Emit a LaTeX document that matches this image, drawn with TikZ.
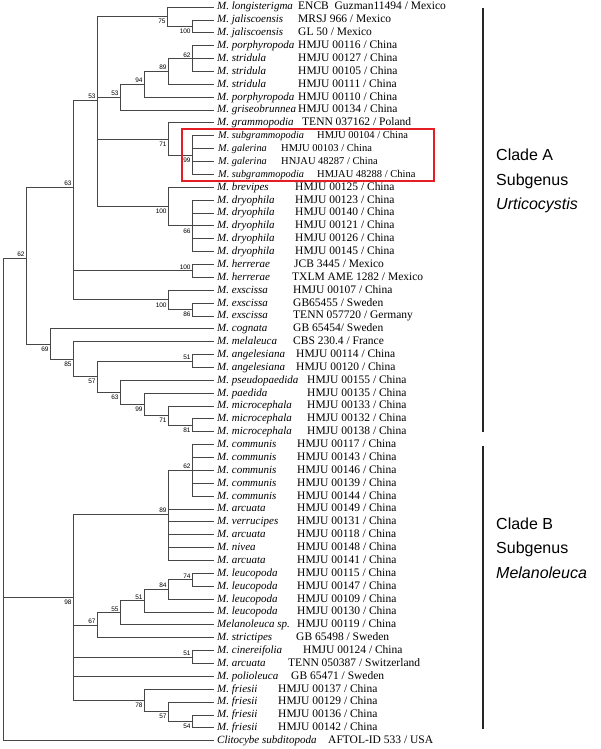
\documentclass[tikz,border=0pt]{standalone}
\usepackage{fontspec}
\setmainfont{Liberation Serif}
\setsansfont{Liberation Sans}
\usepackage{tikz}
\usetikzlibrary{positioning}
\definecolor{boxred}{RGB}{228,30,36}
\definecolor{treegray}{RGB}{70,70,70}

\begin{document}
\begin{tikzpicture}[
        x=1pt, y=-1pt,
        branch/.style={draw=treegray, line width=0.7pt},
        tipname/.style={anchor=west, inner sep=0pt, text height=8pt, text depth=2pt, font=\fontsize{11}{12}\selectfont\itshape},
        tipacc/.style={anchor=west, inner sep=0pt, text height=8pt, text depth=2pt, font=\fontsize{11.5}{12}\selectfont},
        tipnamesm/.style={tipname, font=\fontsize{10.3}{11}\selectfont\itshape},
        tipaccsm/.style={tipacc, font=\fontsize{10.5}{11}\selectfont},
        boot/.style={inner sep=1.2pt, font=\fontsize{6.5}{7}\selectfont\sffamily},
        clade/.style={anchor=west, inner sep=0pt, align=left, font=\fontsize{16}{24.5}\selectfont\sffamily},
        cladebar/.style={draw=black!85, line width=1.6pt}
    ]
    \useasboundingbox (0,0) rectangle (600,749);

    % Nodes
    \coordinate (root) at (3,597);
    \coordinate (nA) at (26,258);
    \coordinate (nA63) at (73,187);
    \coordinate (n53a) at (97,100);
    \coordinate (n75) at (167,16.6);
    \coordinate (nJal) at (192,26.3);
    \coordinate (n53b) at (120,97.1);
    \coordinate (n94) at (144,84.2);
    \coordinate (n89) at (168,71.4);
    \coordinate (n62s) at (192,58.5);
    \coordinate (n71) at (168,138.9);
    \coordinate (n99) at (192,155);
    \coordinate (nBre) at (168,206.5);
    \coordinate (n66) at (192,225.8);
    \coordinate (nHer) at (192,270.8);
    \coordinate (nExs) at (168,299.8);
    \coordinate (n86) at (192,309.5);
    \coordinate (n69) at (50,343.9);
    \coordinate (n85) at (73,359.1);
    \coordinate (n57) at (97,376.6);
    \coordinate (nAng) at (192,360.9);
    \coordinate (n63b) at (120,392.3);
    \coordinate (n99b) at (144,404.4);
    \coordinate (n71b) at (168,415.6);
    \coordinate (n81) at (192,425.3);
    \coordinate (nB) at (73,597);
    \coordinate (n89b) at (168,514);
    \coordinate (n62c) at (192,470.3);
    \coordinate (n67) at (97,625.2);
    \coordinate (n55) at (120,612.7);
    \coordinate (n51b) at (144,600.6);
    \coordinate (n84) at (168,589.4);
    \coordinate (n74) at (192,579.7);
    \coordinate (nCin) at (192,656.9);
    \coordinate (n78) at (144,700.4);
    \coordinate (n57c) at (168,711.6);
    \coordinate (n54) at (192,721.3);

    \foreach \i/\sp/\acc/\ax in {
        1/{M. longisterigma}/{ENCB\ \ Guzman11494 / Mexico}/298,
        2/{M. jaliscoensis}/{MRSJ 966 / Mexico}/298,
        3/{M. jaliscoensis}/{GL 50 / Mexico}/298,
        4/{M. porphyropoda}/{HMJU 00116 / China}/298,
        5/{M. stridula}/{HMJU 00127 / China}/298,
        6/{M. stridula}/{HMJU 00105 / China}/298,
        7/{M. stridula}/{HMJU 00111 / China}/298,
        8/{M. porphyropoda}/{HMJU 00110 / China}/298,
        9/{M. griseobrunnea}/{HMJU 00134 / China}/298,
        10/{M. grammopodia}/{TENN 037162 / Poland}/302,
        15/{M. brevipes}/{HMJU 00125 / China}/295,
        16/{M. dryophila}/{HMJU 00123 / China}/295,
        17/{M. dryophila}/{HMJU 00140 / China}/295,
        18/{M. dryophila}/{HMJU 00121 / China}/295,
        19/{M. dryophila}/{HMJU 00126 / China}/295,
        20/{M. dryophila}/{HMJU 00145 / China}/295,
        21/{M. herrerae}/{JCB 3445 / Mexico}/294,
        22/{M. herrerae}/{TXLM AME 1282 / Mexico}/292,
        23/{M. exscissa}/{HMJU 00107 / China}/293,
        24/{M. exscissa}/{GB65455 / Sweden}/293,
        25/{M. exscissa}/{TENN 057720 / Germany}/293,
        26/{M. cognata}/{GB 65454/ Sweden}/293,
        27/{M. melaleuca}/{CBS 230.4 / France}/293,
        28/{M. angelesiana}/{HMJU 00114 / China}/296,
        29/{M. angelesiana}/{HMJU 00120 / China}/296,
        30/{M. pseudopaedida}/{HMJU 00155 / China}/307,
        31/{M. paedida}/{HMJU 00135 / China}/307,
        32/{M. microcephala}/{HMJU 00133 / China}/307,
        33/{M. microcephala}/{HMJU 00132 / China}/307,
        34/{M. microcephala}/{HMJU 00138 / China}/307,
        35/{M. communis}/{HMJU 00117 / China}/297,
        36/{M. communis}/{HMJU 00143 / China}/297,
        37/{M. communis}/{HMJU 00146 / China}/297,
        38/{M. communis}/{HMJU 00139 / China}/297,
        39/{M. communis}/{HMJU 00144 / China}/297,
        40/{M. arcuata}/{HMJU 00149 / China}/297,
        41/{M. verrucipes}/{HMJU 00131 / China}/297,
        42/{M. arcuata}/{HMJU 00118 / China}/297,
        43/{M. nivea}/{HMJU 00148 / China}/297,
        44/{M. arcuata}/{HMJU 00141 / China}/297,
        45/{M. leucopoda}/{HMJU 00115 / China}/297,
        46/{M. leucopoda}/{HMJU 00147 / China}/297,
        47/{M. leucopoda}/{HMJU 00109 / China}/297,
        48/{M. leucopoda}/{HMJU 00130 / China}/297,
        49/{Melanoleuca sp.}/{HMJU 00119 / China}/297,
        50/{M. strictipes}/{GB 65498 / Sweden}/296,
        51/{M. cinereifolia}/{HMJU 00124 / China}/303,
        52/{M. arcuata}/{TENN 050387 / Switzerland}/288,
        53/{M. polioleuca}/{GB 65471 / Sweden}/291,
        54/{M. friesii}/{HMJU 00137 / China}/278,
        55/{M. friesii}/{HMJU 00129 / China}/278,
        56/{M. friesii}/{HMJU 00136 / China}/278,
        57/{M. friesii}/{HMJU 00142 / China}/278,
        58/{Clitocybe subditopoda}/{AFTOL-ID 533 / USA}/328}{
        \coordinate (t\i) at (214,{7+(\i-1)*12.87});
        \node[tipname] (s\i) at (217,{7+(\i-1)*12.87}) {\sp};
        \node[tipacc] (a\i) at (\ax,{7+(\i-1)*12.87}) {\acc};
    }
    % highlighted samples
    \foreach \i/\sp/\acc/\ax in {
        11/{M. subgrammopodia}/{HMJU 00104 / China}/317,
        12/{M. galerina}/{HMJU 00103 / China}/281,
        13/{M. galerina}/{HNJAU 48287 / China}/281,
        14/{M. subgrammopodia}/{HMJAU 48288 / China}/317}{
        \coordinate (t\i) at (214,{7+(\i-1)*12.87});
        \node[tipnamesm] (s\i) at (218,{7+(\i-1)*12.87}) {\sp};
        \node[tipaccsm] (a\i) at (\ax,{7+(\i-1)*12.87}) {\acc};
    }

    % Edges
    \foreach \p/\c in {root/nA, root/nB, root/t58,
        nA/nA63, nA/n69,
        nA63/n53a, nA63/nHer, nA63/nExs,
        n53a/n75, n53a/n53b, n53a/n71, n53a/nBre,
        n75/t1, n75/nJal, nJal/t2, nJal/t3,
        n53b/n94, n53b/t9, n94/n89, n94/t8, n89/n62s, n89/t7,
        n62s/t4, n62s/t5, n62s/t6,
        n71/t10, n71/n99, n99/t11, n99/t12, n99/t13, n99/t14,
        nBre/t15, nBre/n66, n66/t16, n66/t17, n66/t18, n66/t19, n66/t20,
        nHer/t21, nHer/t22, nExs/t23, nExs/n86, n86/t24, n86/t25,
        n69/t26, n69/n85, n85/t27, n85/n57, n57/nAng, n57/n63b,
        nAng/t28, nAng/t29, n63b/t30, n63b/n99b, n99b/t31, n99b/n71b,
        n71b/t32, n71b/n81, n81/t33, n81/t34,
        nB/n89b, nB/n67, nB/nCin, nB/t53, nB/n78,
        n89b/n62c, n89b/t40, n89b/t41, n89b/t42, n89b/t43, n89b/t44,
        n62c/t35, n62c/t36, n62c/t37, n62c/t38, n62c/t39,
        n67/n55, n67/t50, n55/n51b, n55/t49, n51b/n84, n51b/t48,
        n84/n74, n84/t47, n74/t45, n74/t46,
        nCin/t51, nCin/t52,
        n78/t54, n78/n57c, n57c/t55, n57c/n54, n54/t56, n54/t57}
        \draw[branch] (\p) |- (\c);

    % bootstrap values
    \foreach \n/\v in {n62s/62, n89/89, n94/94, n53b/53, n53a/53, nA63/63, nA/62, nHer/100,
        nAng/51, n62c/62, n89b/89, n74/74, n84/84, n51b/51, n55/55, n67/67, nCin/51}
        \node[boot, anchor=south east] (b\n) at (\n) {\v};
    \foreach \n/\v in {n75/75, nJal/100, n71/71, n99/99, nBre/100, n66/66, nExs/100, n86/86,
        n69/69, n85/85, n57/57, n63b/63, n99b/99, n71b/71, n81/81, nB/98, n78/78, n57c/57, n54/54}
        \node[boot, anchor=north east, yshift=-1.5pt] (b\n) at (\n) {\v};

    % box and clades
    \coordinate (boxNW) at (182,129);
    \coordinate (boxSE) at (434,181);
    \draw[boxred, line width=1.4pt] (boxNW) rectangle (boxSE);

    \coordinate (barAtop) at (483,8);
    \coordinate (barAbot) at (483,432);
    \coordinate (barBtop) at (483,446);
    \coordinate (barBbot) at (483,729);
    \draw[cladebar] (barAtop) -- (barAbot);
    \draw[cladebar] (barBtop) -- (barBbot);
    \node[clade] (cladeA) at (496,181) {Clade A\\Subgenus\\\textit{Urticocystis}};
    \node[clade] (cladeB) at (496,548) {Clade B\\Subgenus\\\textit{Melanoleuca}};

\end{tikzpicture}
\end{document}
